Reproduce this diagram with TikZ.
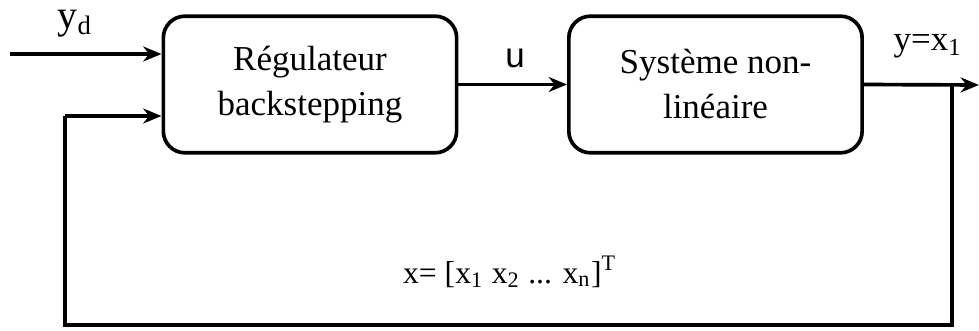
\documentclass[tikz,border=0pt]{standalone}
\usepackage{fontspec}
\setmainfont{Liberation Serif}
\newfontfamily\arialfont{Liberation Sans}
\usetikzlibrary{arrows.meta}

\begin{document}
\begin{tikzpicture}[x=0.3pt, y=-0.3pt, >={Stealth[length=5.5pt,width=4.5pt]}, line width=1.1pt,
    bloc/.style={draw, rounded corners=6.5pt, minimum width=88pt, minimum height=41pt,
      align=center, inner sep=0pt, font=\fontsize{10.5}{13.5}\selectfont},
    etiq/.style={font=\fontsize{10.5}{12}\selectfont, inner sep=0pt}]
  \useasboundingbox (0,0) rectangle (979,331);

  % blocs
  \node[bloc] (reg) at (310,84.5) {Régulateur\\backstepping};
  \node[bloc] (sys) at (715.5,84.5) {Système non-\\linéaire};

  % points de la boucle
  \coordinate (yd) at (10,54);
  \coordinate (sortie) at (979,85);
  \coordinate (branche) at (952,85);
  \coordinate (basD) at (952,325);
  \coordinate (basG) at (65,325);
  \coordinate (retour) at (65,116);

  \draw[->] (yd) -- (yd -| reg.west);
  \draw[->] (reg.east) -- (sys.west);
  \draw[->] (sys.east) -- (sortie);
  \draw (branche) -- (basD) -- (basG) -- (retour);
  \draw[->] (retour) -- (retour -| reg.west);

  % etiquettes
  \node[etiq] (lyd) at (75,24) {\fontsize{12}{12}\selectfont y\textsubscript{d}};
  \node[etiq] (lu) at (515,58) {\arialfont u};
  \node[etiq] (ly) at (928,46) {y=x\textsubscript{1}};
  \node[etiq, font=\fontsize{9.5}{11}\selectfont] (lx) at (510,272) {x= [x\textsubscript{1} x\textsubscript{2} ... x\textsubscript{n}]\textsuperscript{T}};
\end{tikzpicture}
\end{document}
